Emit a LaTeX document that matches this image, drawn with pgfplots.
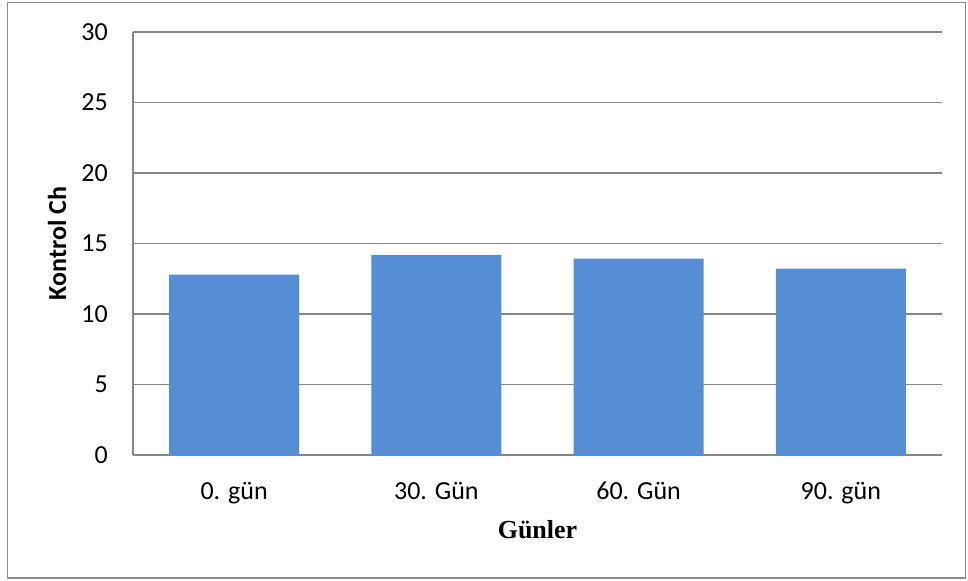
\documentclass[border=0pt]{standalone}
\usepackage{fontspec}
\setmainfont{Carlito}
\newfontfamily\timesfont{Liberation Serif}
\usepackage{pgfplots}
\pgfplotsset{compat=1.18}
\definecolor{barblue}{HTML}{558ED5}
\definecolor{gridgray}{HTML}{868686}
\definecolor{framegray}{HTML}{8C8C8C}
\begin{document}
\begin{tikzpicture}[x=0.75pt,y=0.75pt]
\useasboundingbox (0,0) rectangle (968,581);
% outer chart frame
\draw[framegray, line width=1.1pt] (7.5,3) rectangle (965.5,578.5);
\begin{axis}[
  at={(99.75pt,94.5pt)}, anchor=south west,
  width=606.75pt, height=317.25pt, scale only axis,
  font=\fontsize{19.5}{23}\selectfont,
  /pgf/number format/assume math mode=true,
  ybar, bar width=97.5pt,
  xmin=-0.5, xmax=3.5, ymin=0, ymax=30,
  xtick={0,1,2,3},
  xticklabels={0. gün, 30. Gün, 60. Gün, 90. gün},
  ytick={0,5,...,30},
  major tick length=0pt,
  axis x line=bottom, axis y line=left,
  axis line style={-, gridgray, line width=1.1pt},
  ymajorgrids, grid style={gridgray, line width=1.1pt},
  yticklabel style={inner sep=0pt, xshift=-18.75pt},
  xticklabel style={inner sep=0pt, anchor=north, yshift=-20pt},
  xlabel={\timesfont\bfseries Günler},
  xlabel style={at={(axis description cs:0.5,-0.1537)}, anchor=north, inner sep=0pt},
  ylabel={\bfseries Kontrol Ch},
  ylabel style={at={(axis description cs:-0.0939,0.5)}, anchor=center, rotate=0},
]
\addplot[fill=barblue, draw=none] coordinates {(0,12.8) (1,14.2) (2,13.93) (3,13.22)};
\end{axis}
\end{tikzpicture}
\end{document}
